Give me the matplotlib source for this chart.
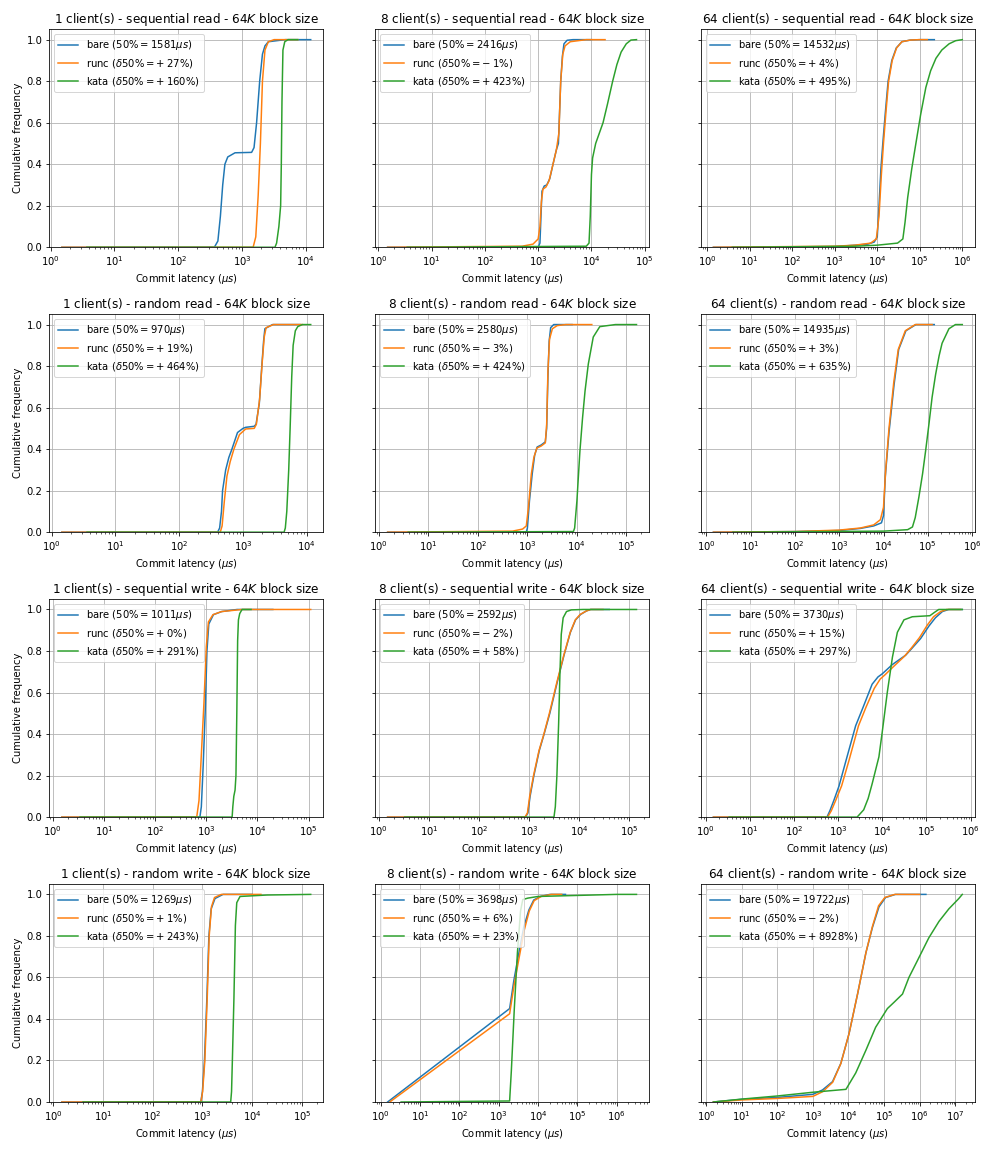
import matplotlib
matplotlib.use("Agg")
import matplotlib.pyplot as plt

clients = [1, 8, 64]
workloads = ["sequential read", "random read", "sequential write", "random write"]

# median commit latency of bare metal (us), and relative change of runc / kata (%)
bare_p50 = [[1581, 2416, 14532], [970, 2580, 14935], [1011, 2592, 3730], [1269, 3698, 19722]]
runc_delta = [[27, -1, 4], [19, -3, 3], [0, -2, 15], [1, 6, -2]]
kata_delta = [[160, 423, 495], [464, 424, 635], [291, 58, 297], [243, 23, 8928]]

# CDF points: (latency us, cumulative frequency)
# sequential read
sr1_bare = [(1.5, 0), (370, 0), (420, 0.03), (460, 0.15), (500, 0.3), (541, 0.4), (600, 0.435), (780, 0.455),
            (1420, 0.457), (1550, 0.48), (1700, 0.6), (1900, 0.8), (2100, 0.93), (2300, 0.97), (2600, 0.99),
            (4800, 1.0), (12000, 1.0)]
sr1_runc = [(1.5, 0), (1500, 0), (1650, 0.05), (1800, 0.25), (1950, 0.5), (2100, 0.8), (2300, 0.95),
            (2600, 0.99), (3200, 1.0), (7500, 1.0)]
sr1_kata = [(3.7, 0), (3300, 0), (3500, 0.02), (3800, 0.1), (4050, 0.2), (4150, 0.4), (4250, 0.7),
            (4400, 0.95), (4700, 0.99), (5300, 1.0), (7500, 1.0)]
sr8_bare = [(1.5, 0), (1000, 0), (1080, 0.02), (1130, 0.15), (1180, 0.27), (1300, 0.295), (1450, 0.3),
            (1650, 0.33), (1900, 0.4), (2200, 0.47), (2400, 0.5), (2650, 0.8), (2850, 0.92), (3050, 0.98),
            (3500, 0.997), (4500, 1.0), (10000, 1.0)]
sr8_runc = [(1.5, 0), (500, 0.005), (800, 0.015), (1000, 0.04), (1080, 0.1), (1150, 0.22), (1230, 0.28),
            (1400, 0.29), (1600, 0.32), (1900, 0.4), (2200, 0.47), (2450, 0.55), (2650, 0.8), (2900, 0.93),
            (3200, 0.97), (4000, 0.99), (8000, 1.0), (18000, 1.0)]
sr8_kata = [(3.5, 0), (8000, 0.005), (9000, 0.02), (9500, 0.15), (10000, 0.35), (10500, 0.43), (12000, 0.5),
            (16500, 0.6), (20000, 0.69), (25000, 0.8), (30000, 0.88), (36000, 0.94), (45000, 0.98),
            (55000, 0.998), (70000, 1.0)]
sr64_bare = [(1.4, 0), (1000, 0.003), (3000, 0.01), (6000, 0.015), (8500, 0.025), (10000, 0.05), (11000, 0.2),
             (12200, 0.38), (13500, 0.5), (15500, 0.65), (18000, 0.8), (22000, 0.9), (28000, 0.96),
             (38000, 0.99), (60000, 0.998), (100000, 1.0), (220000, 1.0)]
sr64_runc = [(1.4, 0), (1000, 0.005), (3000, 0.01), (7000, 0.02), (9500, 0.04), (11000, 0.15), (12500, 0.35),
             (14000, 0.5), (16000, 0.65), (18500, 0.8), (22500, 0.9), (28500, 0.96), (38000, 0.99),
             (60000, 0.998), (100000, 1.0), (150000, 1.0)]
sr64_kata = [(3.9, 0), (3000, 0.005), (10000, 0.01), (30000, 0.02), (40000, 0.04), (45000, 0.12), (52000, 0.24),
             (65000, 0.38), (81000, 0.5), (105000, 0.64), (139000, 0.77), (180000, 0.85), (240000, 0.91),
             (330000, 0.95), (490000, 0.98), (700000, 0.995), (1000000, 1.0)]
# random read
rr1_bare = [(1.45, 0), (400, 0), (430, 0.02), (460, 0.1), (478, 0.2), (535, 0.3), (600, 0.36), (670, 0.4),
            (820, 0.48), (1000, 0.5), (1100, 0.505), (1500, 0.51), (1600, 0.52), (1800, 0.62), (1970, 0.8),
            (2100, 0.92), (2200, 0.98), (2900, 1.0), (8000, 1.0)]
rr1_runc = [(1.45, 0), (440, 0), (470, 0.03), (510, 0.15), (560, 0.27), (630, 0.34), (720, 0.4), (880, 0.47),
            (1100, 0.497), (1500, 0.5), (1620, 0.52), (1820, 0.64), (2000, 0.82), (2150, 0.94), (2300, 0.985),
            (3000, 1.0), (8500, 1.0)]
rr1_kata = [(3.6, 0), (4400, 0), (4600, 0.02), (4850, 0.1), (5200, 0.3), (5470, 0.5), (5800, 0.75),
            (6100, 0.9), (6600, 0.97), (7200, 0.99), (8500, 1.0), (11500, 1.0)]
rr8_bare = [(1.5, 0), (950, 0), (1000, 0.02), (1100, 0.15), (1250, 0.28), (1400, 0.37), (1570, 0.41),
            (1900, 0.42), (2300, 0.435), (2450, 0.5), (2600, 0.75), (2750, 0.92), (2950, 0.985), (3400, 1.0),
            (8000, 1.0)]
rr8_runc = [(1.5, 0), (500, 0.005), (800, 0.015), (950, 0.03), (1050, 0.12), (1200, 0.28), (1350, 0.36),
            (1550, 0.405), (1900, 0.415), (2300, 0.43), (2450, 0.52), (2600, 0.78), (2800, 0.93), (3200, 0.98),
            (4000, 0.995), (6000, 1.0), (20000, 1.0)]
rr8_kata = [(3.9, 0), (8500, 0.003), (9000, 0.02), (10000, 0.15), (11500, 0.39), (13000, 0.55), (14600, 0.68),
            (17000, 0.81), (21400, 0.94), (29000, 0.99), (60000, 1.0), (160000, 1.0)]
rr64_bare = [(1.45, 0), (100, 0.003), (1000, 0.008), (3000, 0.018), (6000, 0.03), (9000, 0.045),
             (10000, 0.08), (11000, 0.27), (13300, 0.48), (17300, 0.71), (22000, 0.88), (32000, 0.97),
             (54000, 1.0), (140000, 1.0)]
rr64_runc = [(1.45, 0), (100, 0.003), (1000, 0.01), (3000, 0.02), (6000, 0.035), (8500, 0.06), (10000, 0.12),
             (11200, 0.3), (13300, 0.5), (17000, 0.72), (21500, 0.88), (31000, 0.97), (52000, 1.0),
             (125000, 1.0)]
rr64_kata = [(4, 0), (10000, 0.005), (35000, 0.012), (45000, 0.025), (52000, 0.07), (63000, 0.17),
             (76000, 0.28), (89000, 0.39), (106000, 0.52), (125000, 0.65), (150000, 0.76), (180000, 0.85),
             (210000, 0.91), (300000, 0.98), (420000, 1.0), (600000, 1.0)]
# sequential write
sw1_bare = [(1.5, 0), (750, 0), (800, 0.05), (870, 0.25), (950, 0.5), (1030, 0.8), (1120, 0.93),
            (1380, 0.975), (2000, 0.99), (4000, 1.0), (20000, 1.0)]
sw1_runc = [(1.5, 0), (650, 0), (720, 0.08), (800, 0.3), (900, 0.55), (1000, 0.82), (1100, 0.94),
            (1350, 0.975), (2000, 0.99), (5000, 1.0), (110000, 1.0)]
sw1_kata = [(3.4, 0), (3200, 0), (3300, 0.05), (3450, 0.1), (3650, 0.13), (3800, 0.2), (3950, 0.5),
            (4100, 0.85), (4250, 0.95), (4500, 0.98), (5000, 1.0), (7500, 1.0)]
sw8_bare = [(1.5, 0), (850, 0), (950, 0.02), (1050, 0.1), (1250, 0.2), (1600, 0.32), (2000, 0.4), (2600, 0.5),
            (3660, 0.65), (5000, 0.78), (6700, 0.89), (8500, 0.95), (10700, 0.976), (14000, 0.993),
            (17000, 1.0), (40000, 1.0)]
sw8_runc = [(1.5, 0), (830, 0), (930, 0.02), (1030, 0.1), (1230, 0.2), (1580, 0.32), (1980, 0.4), (2550, 0.5),
            (3600, 0.65), (4950, 0.78), (6650, 0.89), (8400, 0.95), (10500, 0.976), (14000, 0.993),
            (17000, 1.0), (30000, 1.0)]
sw8_kata = [(3.3, 0), (3150, 0), (3350, 0.05), (3600, 0.2), (3900, 0.45), (4150, 0.7), (4400, 0.88),
            (4800, 0.96), (5600, 0.99), (7000, 0.998), (12000, 1.0), (140000, 1.0)]
sw64_bare = [(1.5, 0), (560, 0), (650, 0.03), (800, 0.08), (1050, 0.15), (1500, 0.27), (2500, 0.44),
             (3700, 0.53), (5900, 0.64), (8000, 0.675), (10000, 0.69), (17000, 0.735), (34000, 0.78),
             (48000, 0.815), (74000, 0.86), (114000, 0.92), (160000, 0.96), (230000, 0.99), (320000, 1.0),
             (650000, 1.0)]
sw64_runc = [(1.5, 0), (580, 0), (700, 0.03), (880, 0.08), (1200, 0.15), (1750, 0.27), (2900, 0.44),
             (4300, 0.53), (6600, 0.62), (9000, 0.665), (11500, 0.685), (18000, 0.725), (32000, 0.775),
             (46000, 0.815), (70000, 0.865), (105000, 0.925), (145000, 0.965), (210000, 0.99), (290000, 1.0),
             (600000, 1.0)]
sw64_kata = [(3.4, 0), (2700, 0), (3800, 0.035), (4800, 0.09), (5900, 0.16), (8400, 0.29), (10000, 0.41),
             (13000, 0.6), (17000, 0.77), (22000, 0.89), (31000, 0.95), (48000, 0.965), (120000, 0.97),
             (150000, 0.985), (190000, 1.0), (650000, 1.0)]
# random write
rw1_bare = [(1.5, 0), (930, 0), (1000, 0.05), (1100, 0.2), (1230, 0.5), (1350, 0.8), (1500, 0.93),
            (1790, 0.98), (2600, 1.0), (10000, 1.0)]
rw1_runc = [(1.5, 0), (930, 0), (1010, 0.05), (1120, 0.2), (1250, 0.5), (1370, 0.8), (1520, 0.94),
            (1750, 0.985), (2400, 1.0), (15000, 1.0)]
rw1_kata = [(4, 0), (3700, 0), (3850, 0.05), (4000, 0.2), (4300, 0.5), (4600, 0.85), (4900, 0.96),
            (5700, 0.99), (20000, 0.997), (150000, 1.0)]
rw8_bare = [(1.5, 0), (1900, 0.45), (2440, 0.587), (3250, 0.716), (4370, 0.844), (5870, 0.925),
            (7800, 0.973), (11500, 0.99), (20000, 1.0), (50000, 1.0)]
rw8_runc = [(1.7, 0), (1900, 0.425), (2500, 0.57), (3350, 0.70), (4500, 0.83), (6000, 0.92), (8000, 0.97),
            (12000, 0.99), (22000, 1.0), (40000, 1.0)]
rw8_kata = [(3.3, 0), (1900, 0.005), (2100, 0.15), (2500, 0.45), (3000, 0.72), (3600, 0.92), (4100, 0.975),
            (5500, 0.982), (10000, 0.99), (100000, 0.995), (1000000, 1.0), (3200000, 1.0)]
rw64_bare = [(1.6, 0), (10, 0.013), (100, 0.022), (1000, 0.037), (1860, 0.058), (3560, 0.098), (6100, 0.186),
             (10400, 0.33), (18000, 0.52), (31000, 0.72), (47000, 0.84), (72000, 0.94), (110000, 0.985),
             (210000, 1.0), (1500000, 1.0)]
rw64_runc = [(1.6, 0), (10, 0.01), (100, 0.017), (1000, 0.027), (1900, 0.05), (3600, 0.095), (6100, 0.185),
             (10400, 0.33), (18000, 0.52), (31000, 0.72), (47000, 0.845), (70000, 0.945), (105000, 0.985),
             (200000, 1.0), (1000000, 1.0)]
rw64_kata = [(1.6, 0), (10, 0.014), (100, 0.029), (1000, 0.047), (8500, 0.061), (16000, 0.14), (31000, 0.25),
             (58000, 0.36), (124000, 0.45), (190000, 0.48), (330000, 0.52), (500000, 0.6), (860000, 0.68),
             (1800000, 0.79), (3500000, 0.87), (6600000, 0.93), (12600000, 0.98), (15800000, 1.0)]

curves = [
    [(sr1_bare, sr1_runc, sr1_kata), (sr8_bare, sr8_runc, sr8_kata), (sr64_bare, sr64_runc, sr64_kata)],
    [(rr1_bare, rr1_runc, rr1_kata), (rr8_bare, rr8_runc, rr8_kata), (rr64_bare, rr64_runc, rr64_kata)],
    [(sw1_bare, sw1_runc, sw1_kata), (sw8_bare, sw8_runc, sw8_kata), (sw64_bare, sw64_runc, sw64_kata)],
    [(rw1_bare, rw1_runc, rw1_kata), (rw8_bare, rw8_runc, rw8_kata), (rw64_bare, rw64_runc, rw64_kata)],
]


def delta_label(name, d):
    # sign rendered as a spaced operator, like "= + 27%"
    sign = "+" if d >= 0 else "-"
    return rf"{name} ($\delta 50\% = {sign}\:{abs(d)}\%$)"


fig, axes = plt.subplots(4, 3, figsize=(14, 16), dpi=72, sharey=True)
fig.subplots_adjust(left=0.049, right=0.967, bottom=0.0434, top=0.9746, wspace=0.19, hspace=0.307)

for i, workload in enumerate(workloads):
    for j, n in enumerate(clients):
        ax = axes[i, j]
        bare, runc, kata = curves[i][j]
        labels = [
            rf"bare ($50\% = {bare_p50[i][j]}\mu s$)",
            delta_label("runc", runc_delta[i][j]),
            delta_label("kata", kata_delta[i][j]),
        ]
        for pts, lab in zip((bare, runc, kata), labels):
            xs = [p[0] for p in pts]
            ys = [p[1] for p in pts]
            ax.plot(xs, ys, label=lab)
        ax.set_xscale("log")
        ax.set_ylim(0, 1.05)
        ax.grid(True)
        ax.set_title(f"{n} client(s) - {workload} - 64$K$ block size")
        ax.set_xlabel(r"Commit latency ($\mu s$)")
        if j == 0:
            ax.set_ylabel("Cumulative frequency")
        ax.legend(loc="upper left")

fig.savefig("out.png", dpi=72)
